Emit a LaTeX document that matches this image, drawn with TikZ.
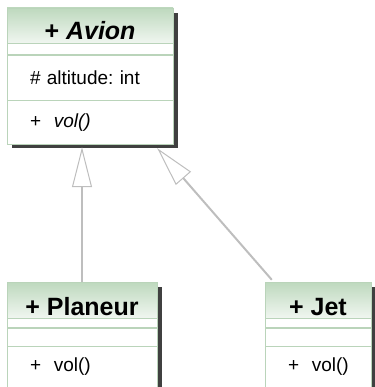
\documentclass[tikz,border=0pt]{standalone}
\usepackage{fontspec}
\setmainfont{Liberation Sans}
\usetikzlibrary{positioning,arrows.meta,backgrounds}

\definecolor{hdgreen}{RGB}{190,217,190}
\definecolor{hdlight}{RGB}{240,246,240}
\definecolor{boxline}{RGB}{186,212,186}
\definecolor{linkgray}{RGB}{190,190,190}

\begin{document}
\begin{tikzpicture}[
                    x=1pt, y=-1pt,
                    node distance=0pt,
                    frame/.style={draw=boxline, fill=white, inner sep=0pt},
                    boxshadow/.style={fill=black!75},
                    head/.style={
                        draw=boxline,
                        top color=hdgreen,
                        bottom color=hdlight,
                        inner sep=0pt,
                        text depth=3pt,
                        font=\fontsize{25}{29}\selectfont\bfseries
                    },
                    strip/.style={draw=boxline, fill=white, inner sep=0pt},
                    part/.style={
                        draw=boxline,
                        fill=white,
                        inner xsep=23pt,
                        inner ysep=0pt,
                        align=left,
                        font=\fontsize{19}{22}\selectfont\frenchspacing
                    },
                    extends/.style={
                        draw=linkgray,
                        line width=2pt,
                        -{Triangle[open, length=40pt, width=20pt, line width=1pt, fill=white]}
                    }
                ]

                    \useasboundingbox (0,0) rectangle (374,387);

                    % Avion
                    \node[frame, minimum width=166pt, minimum height=135pt] (avion) at (90,75.5) {};
                    \node[head, minimum width=166pt, minimum height=35pt, text height=32pt, below=of avion.north] (avionh) {+ \itshape Avion};
                    \node[strip, minimum width=166pt, minimum height=11pt, below=of avionh] (avions) {};
                    \node[part, text width=120pt, minimum height=45pt, below=of avions] (avionattr) {\mbox{\# altitude: int}};
                    \node[part, text width=120pt, minimum height=44pt, below=of avionattr] (avionops) {\mbox{+\ \ \textit{vol()}}};

                    % Planeur
                    \node[frame, minimum width=150pt, minimum height=104pt] (planeur) at (82,334) {};
                    \node[head, minimum width=150pt, minimum height=36pt, text height=33pt, below=of planeur.north] (planeurh) {+ Planeur};
                    \node[strip, minimum width=150pt, minimum height=9pt, below=of planeurh] (planeurs) {};
                    \node[strip, minimum width=150pt, minimum height=18pt, below=of planeurs] (planeurattr) {};
                    \node[part, text width=104pt, minimum height=41pt, below=of planeurattr] (planeurops) {\mbox{+\ \ vol()}};

                    % Jet
                    \node[frame, minimum width=106pt, minimum height=104pt] (jet) at (318,334) {};
                    \node[head, minimum width=106pt, minimum height=36pt, text height=33pt, below=of jet.north] (jeth) {+ Jet};
                    \node[strip, minimum width=106pt, minimum height=9pt, below=of jeth] (jets) {};
                    \node[strip, minimum width=106pt, minimum height=18pt, below=of jets] (jetattr) {};
                    \node[part, text width=60pt, minimum height=41pt, below=of jetattr] (jetops) {\mbox{+\ \ vol()}};

                    % Shadows
                    \begin{scope}[on background layer]
                        \foreach \cls in {avion, planeur, jet}
                            \fill[boxshadow] ([shift={(5pt,-5pt)}]\cls.south west) rectangle ([shift={(5pt,-5pt)}]\cls.north east);
                    \end{scope}

                    % Edges
                    \coordinate (avtip) at ([yshift=-4pt]avion.south);
                    \coordinate (jettip) at ([xshift=-16pt, yshift=-5pt]avion.south east);
                    \coordinate (jetfoot) at ([xshift=7pt, yshift=2pt]jet.north west);
                    \draw[extends] (planeur.north) -- (planeur.north |- avtip);
                    \draw[extends] (jetfoot) -- (jettip);
                \end{tikzpicture}
\end{document}
